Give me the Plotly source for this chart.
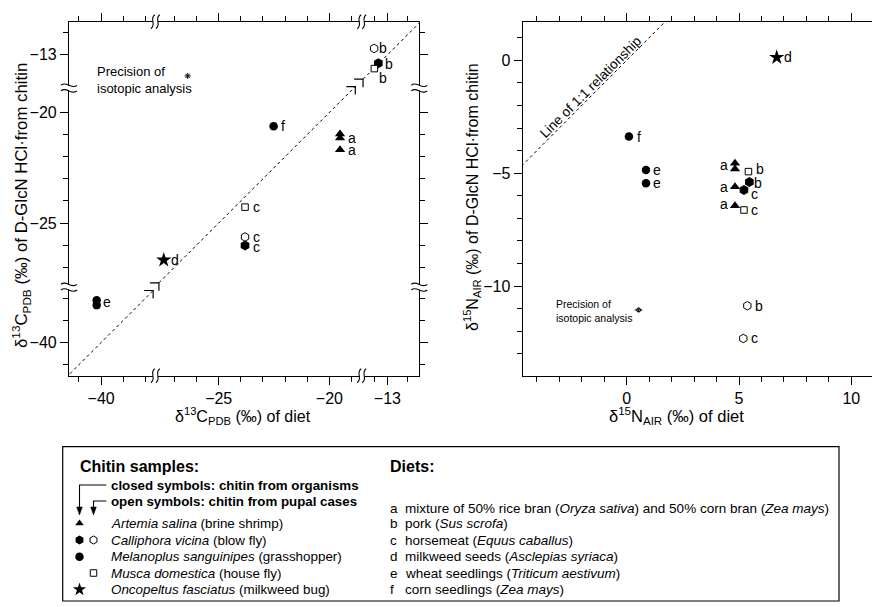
import plotly.graph_objects as go

W, H = 872, 607
FONT = "Liberation Sans, Arial, Helvetica, sans-serif"

# ---------------- δ13C panel: diet vs chitin (‰, PDB) ----------------
# broken axes: the displayed value ranges of each axis segment
C_X_SEGS = [(-41.45, -37.55), (-27.86, -18.54), (-14.16, -11.56)]
C_Y_SEGS = [(-41.5, -37.5), (-27.9, -18.9), (-14.5, -11.5)]

c_artemia_diet = [-19.52, -19.52, -19.52]
c_artemia_chitin = [-20.98, -21.16, -21.69]
c_artemia_lbl = ["", "a", "a"]

c_calli_closed_diet = [-13.41, -23.81]
c_calli_closed_chitin = [-13.38, -26.02]
c_calli_closed_lbl = ["b", "c"]

c_calli_open_diet = [-13.60, -23.81]
c_calli_open_chitin = [-12.71, -25.63]
c_calli_open_lbl = ["b", "c"]

c_melan_diet = [-40.20, -40.20, -22.52]
c_melan_chitin = [-38.09, -38.31, -20.62]
c_melan_lbl = ["", "e", "f"]

c_musca_diet = [-13.59, -23.81]
c_musca_chitin = [-13.62, -24.28]
c_musca_lbl = ["b", "c"]

c_oncop_diet = [-27.48]
c_oncop_chitin = [-26.67]
c_oncop_lbl = ["d"]

c_precision_diet = [-26.40]
c_precision_chitin = [-13.95]

# pieces of the 1:1 line between the axis breaks
c_one_to_one = [(-41.6, -37.65), (-27.7, -18.83), (-14.1, -11.4)]

c_x_major = [-40, -25, -20, -13]
c_x_minor = [-41, -39, -38, -27, -26, -24, -23, -22, -21, -19, -13.6, -12.1]
c_y_major = [-40, -25, -20, -13]
c_y_minor = [-41, -39, -38, -27, -26, -24, -23, -22, -21, -12]

# ---------------- δ15N panel: diet vs chitin (‰, AIR) ----------------
n_artemia_diet = [4.82, 4.82, 4.82, 4.82]
n_artemia_chitin = [-4.56, -4.82, -5.60, -6.44]
n_artemia_lbl = ["a", "", "a", "a"]

n_calli_closed_diet = [5.46, 5.22]
n_calli_closed_chitin = [-5.39, -5.75]
n_calli_closed_lbl = ["b", "c"]

n_calli_open_diet = [5.37, 5.19]
n_calli_open_chitin = [-10.87, -12.32]
n_calli_open_lbl = ["b", "c"]

n_melan_diet = [0.86, 0.86, 0.10]
n_melan_chitin = [-4.86, -5.45, -3.38]
n_melan_lbl = ["e", "e", "f"]

n_musca_diet = [5.42, 5.22]
n_musca_chitin = [-4.93, -6.63]
n_musca_lbl = ["b", "c"]

n_oncop_diet = [6.68]
n_oncop_chitin = [0.13]
n_oncop_lbl = ["d"]

n_precision_diet = [0.53]
n_precision_chitin = [-11.06]

n_one_to_one = [-6, 3]

n_x_major = [0, 5, 10]
n_x_minor = [-4, -3, -2, -1, 1, 2, 3, 4, 6, 7, 8, 9]
n_y_major = [0, -5, -10]
n_y_minor = [1, -1, -2, -3, -4, -6, -7, -8, -9, -11, -12, -13]

# ---------------- legend content ----------------
species = [("Artemia salina", "brine shrimp"),
           ("Calliphora vicina", "blow fly"),
           ("Melanoplus sanguinipes", "grasshopper"),
           ("Musca domestica", "house fly"),
           ("Oncopeltus fasciatus", "milkweed bug")]
diets = [("a", "mixture of 50% rice bran (<i>Oryza sativa</i>) and 50% corn bran (<i>Zea mays</i>)"),
         ("b", "pork (<i>Sus scrofa</i>)"),
         ("c", "horsemeat (<i>Equus caballus</i>)"),
         ("d", "milkweed seeds (<i>Asclepias syriaca</i>)"),
         ("e", "wheat seedlings (<i>Triticum aestivum</i>)"),
         ("f", "corn seedlings (<i>Zea mays</i>)")]


def minus(v):
    s = f"{v:g}"
    return s.replace("-", "\u2212")


def brk(v, segs):
    """Map a value onto a broken axis made of consecutive segments.

    The value is placed in the segment it falls in (or the nearest one)."""
    best, off, best_off = None, 0.0, 0.0
    best_d = float("inf")
    for lo, hi in segs:
        d = 0.0 if lo <= v <= hi else min(abs(v - lo), abs(v - hi))
        if d < best_d:
            best_d, best, best_off = d, (lo, hi), off
        off += hi - lo
    return best_off + (v - best[0])


def seg_total(segs):
    return sum(hi - lo for lo, hi in segs)


def cx(v):
    return brk(v, C_X_SEGS)


def cy(v):
    return brk(v, C_Y_SEGS)


def ident(v):
    return v


# panel geometry (pixels in the 872x607 page)
L_X0, L_X1 = 69.0, 419.3
R_X0, R_X1 = 522.7, 872.0
P_TOP, P_BOT = 21.7, 375.7


def px(x):
    return x / W


def py(y):
    return 1 - y / H


Y_DOM = [py(P_BOT), py(P_TOP)]

fig = go.Figure()

# marker styles for the chitin samples
STY = {
    "artemia": dict(symbol="triangle-up", size=9, color="black", line=dict(width=0)),
    "calli_closed": dict(symbol="hexagon", size=10, color="black", line=dict(width=0)),
    "calli_open": dict(symbol="hexagon", size=8.5, color="white", line=dict(width=1, color="black")),
    "melan": dict(symbol="circle", size=8.5, color="black", line=dict(width=0)),
    "musca": dict(symbol="square", size=6.5, color="white", line=dict(width=1, color="black")),
    "oncop": dict(symbol="star", size=11.5, color="black", line=dict(width=0)),
}

annots = []
shapes = []


def add_group(xs, ys, lbls, offs, style, xa, ya, tx, ty):
    fig.add_trace(go.Scatter(
        x=[tx(v) for v in xs], y=[ty(v) for v in ys], mode="markers",
        marker=STY[style], xaxis=xa, yaxis=ya, showlegend=False,
        hoverinfo="skip", cliponaxis=False))
    for xv, yv, t, (dx, dy) in zip(xs, ys, lbls, offs):
        if not t:
            continue
        annots.append(dict(
            text=t, x=tx(xv), y=ty(yv), xref=xa, yref=ya, showarrow=False,
            xanchor="center", yanchor="middle", xshift=dx, yshift=dy,
            font=dict(family=FONT, size=14, color="black")))


# ---- δ13C panel ----
# dashed 1:1 line, interrupted at the axis breaks
lx, ly = [], []
for lo, hi in c_one_to_one:
    lx += [cx(lo), cx(hi), None]
    ly += [cy(lo), cy(hi), None]
fig.add_trace(go.Scatter(x=lx, y=ly, mode="lines", xaxis="x", yaxis="y",
                         line=dict(color="black", width=1, dash="3px,3px"),
                         showlegend=False, hoverinfo="skip"))
# break marks at the ends of the interrupted 1:1 line
for v in (c_one_to_one[0][1], c_one_to_one[1][0], c_one_to_one[1][1], c_one_to_one[2][0]):
    shapes.append(dict(type="path", xref="x", yref="y", xsizemode="pixel", ysizemode="pixel",
                       xanchor=cx(v), yanchor=cy(v), path="M-9,0 L0,0 L0,-8",
                       line=dict(color="black", width=1.2), layer="above"))

add_group(c_artemia_diet, c_artemia_chitin, c_artemia_lbl,
          [(0, 0), (12.3, 0), (12.3, 0)], "artemia", "x", "y", cx, cy)
add_group(c_calli_closed_diet, c_calli_closed_chitin, c_calli_closed_lbl,
          [(10.7, -1), (11.3, -1)], "calli_closed", "x", "y", cx, cy)
add_group(c_calli_open_diet, c_calli_open_chitin, c_calli_open_lbl,
          [(9.3, 0), (11.3, 0)], "calli_open", "x", "y", cx, cy)
add_group(c_melan_diet, c_melan_chitin, c_melan_lbl,
          [(0, 0), (10.7, 2.7), (9, 0)], "melan", "x", "y", cx, cy)
add_group(c_musca_diet, c_musca_chitin, c_musca_lbl,
          [(9, -9), (11.3, 0)], "musca", "x", "y", cx, cy)
add_group(c_oncop_diet, c_oncop_chitin, c_oncop_lbl,
          [(11.7, 0)], "oncop", "x", "y", cx, cy)

fig.add_trace(go.Scatter(
    x=[cx(v) for v in c_precision_diet], y=[cy(v) for v in c_precision_chitin],
    mode="markers", xaxis="x", yaxis="y", showlegend=False, hoverinfo="skip",
    marker=dict(symbol="asterisk-open", size=5, color="black",
                line=dict(width=1, color="black"))))
annots.append(dict(text="Precision of<br>isotopic analysis", x=px(95), y=py(80),
                   xref="paper", yref="paper", xanchor="left", yanchor="middle",
                   align="left", showarrow=False,
                   font=dict(family=FONT, size=13, color="black")))

# ---- δ15N panel ----
fig.add_trace(go.Scatter(x=n_one_to_one, y=n_one_to_one, mode="lines", xaxis="x2", yaxis="y2",
                         line=dict(color="black", width=1, dash="3px,3px"),
                         showlegend=False, hoverinfo="skip"))
annots.append(dict(text="Line of 1:1 relationship", x=-1.45, y=-1.45, xref="x2", yref="y2",
                   showarrow=False, textangle=-45, xshift=-4, yshift=6,
                   font=dict(family=FONT, size=13.6, color="black")))

add_group(n_artemia_diet, n_artemia_chitin, n_artemia_lbl,
          [(-10.7, -1.7), (0, 0), (-10.7, 0), (-10.7, 1.7)], "artemia", "x2", "y2", ident, ident)
add_group(n_calli_closed_diet, n_calli_closed_chitin, n_calli_closed_lbl,
          [(9, -0.7), (10.3, -4.3)], "calli_closed", "x2", "y2", ident, ident)
add_group(n_calli_open_diet, n_calli_open_chitin, n_calli_open_lbl,
          [(12, 0), (11.7, 0)], "calli_open", "x2", "y2", ident, ident)
add_group(n_melan_diet, n_melan_chitin, n_melan_lbl,
          [(10.7, 0), (10.7, 0), (10, 0)], "melan", "x2", "y2", ident, ident)
add_group(n_musca_diet, n_musca_chitin, n_musca_lbl,
          [(11.7, 2.7), (11, 0)], "musca", "x2", "y2", ident, ident)
add_group(n_oncop_diet, n_oncop_chitin, n_oncop_lbl,
          [(11.6, 0)], "oncop", "x2", "y2", ident, ident)

fig.add_trace(go.Scatter(
    x=n_precision_diet, y=n_precision_chitin, mode="markers", xaxis="x2", yaxis="y2",
    showlegend=False, hoverinfo="skip",
    marker=dict(symbol="circle-open", size=4, color="black", line=dict(width=1, color="black")),
    error_x=dict(type="constant", value=0.17, thickness=1, width=0, color="black"),
    error_y=dict(type="constant", value=0.1, thickness=1, width=0, color="black")))
annots.append(dict(text="Precision of<br>isotopic analysis", x=px(554), y=py(311),
                   xref="paper", yref="paper", xanchor="left", yanchor="middle",
                   align="left", showarrow=False,
                   font=dict(family=FONT, size=10.5, color="black")))

# ---- axis titles ----
annots += [
    dict(text="\u03b4<sup>13</sup>C<sub>PDB</sub> (\u2030) of diet", x=px(243), y=py(416),
         xref="paper", yref="paper", showarrow=False, xanchor="center", yanchor="middle",
         font=dict(family=FONT, size=16, color="black")),
    dict(text="\u03b4<sup>15</sup>N<sub>AIR</sub> (\u2030) of diet", x=px(676), y=py(416),
         xref="paper", yref="paper", showarrow=False, xanchor="center", yanchor="middle",
         font=dict(family=FONT, size=16.5, color="black")),
    dict(text="\u03b4<sup>13</sup>C<sub>PDB</sub> (\u2030) of D-GlcN HCl\u00b7from chitin",
         x=px(21), y=py(206), xref="paper", yref="paper", showarrow=False, textangle=-90,
         xanchor="center", yanchor="middle", font=dict(family=FONT, size=16.8, color="black")),
    dict(text="\u03b4<sup>15</sup>N<sub>AIR</sub> (\u2030) of D-GlcN HCl\u00b7from chitin",
         x=px(472), y=py(197), xref="paper", yref="paper", showarrow=False, textangle=-90,
         xanchor="center", yanchor="middle", font=dict(family=FONT, size=16, color="black")),
]

# ---- axis break symbols on the δ13C panel ----
BRK_X = [seg_total(C_X_SEGS[:1]), seg_total(C_X_SEGS[:2])]
BRK_Y = [seg_total(C_Y_SEGS[:1]), seg_total(C_Y_SEGS[:2])]
for u in BRK_X:
    for yd in Y_DOM:
        common = dict(xref="x", yref="paper", xsizemode="pixel", ysizemode="pixel",
                      xanchor=u, yanchor=yd, layer="above")
        shapes.append(dict(type="rect", x0=-2.5, x1=2.5, y0=-2, y1=2,
                           fillcolor="white", line=dict(width=0), **common))
        for d in (-2.5, 2.5):
            shapes.append(dict(type="path",
                               path=f"M{d-2},-7 C{d+4},-3 {d-4},3 {d+2},7",
                               line=dict(color="black", width=1.1), **common))
for u in BRK_Y:
    for xd in (px(L_X0), px(L_X1)):
        common = dict(xref="paper", yref="y", xsizemode="pixel", ysizemode="pixel",
                      xanchor=xd, yanchor=u, layer="above")
        shapes.append(dict(type="rect", x0=-2, x1=2, y0=-2.5, y1=2.5,
                           fillcolor="white", line=dict(width=0), **common))
        for d in (-2.8, 2.8):
            shapes.append(dict(type="path",
                               path=f"M-8,{d} C-3,{d+5} 3,{d-5} 8,{d}",
                               line=dict(color="black", width=1.1), **common))

# ---- legend block (drawn on a pixel-based overlay axis) ----
BOX_L, BOX_T, BOX_R, BOX_B = 62.7, 446.7, 839.0, 601.0
COL_CLOSED, COL_OPEN = 79.5, 93.5
TXT_X = 109.3
ROWS = [523.3, 540.0, 556.7, 573.0, 589.5]
DIET_ROWS = [508.0] + ROWS
shapes.append(dict(type="rect", xref="x3", yref="y3", x0=BOX_L, x1=BOX_R, y0=BOX_T, y1=BOX_B,
                   line=dict(color="black", width=1.2), layer="above"))
# arrows from the explanatory lines down to the symbol columns
for col, yline in ((COL_CLOSED, 485.0), (COL_OPEN, 501.0)):
    shapes.append(dict(type="path", xref="x3", yref="y3",
                       path=f"M{TXT_X - 3},{yline} L{col},{yline} L{col},{508}",
                       line=dict(color="black", width=1.1), layer="above"))
    shapes.append(dict(type="path", xref="x3", yref="y3",
                       path=f"M{col - 2.8},{507} L{col + 2.8},{507} L{col},{515} Z",
                       fillcolor="black", line=dict(color="black", width=0.5), layer="above"))

leg_closed = ["artemia", "calli_closed", "melan", None, "oncop"]
leg_open = [None, "calli_open", None, "musca", None]
leg_size = {"artemia": 7.5, "calli_closed": 9, "calli_open": 8, "melan": 8.5, "musca": 6.5, "oncop": 10}
for row, c, o in zip(ROWS, leg_closed, leg_open):
    for col, st in ((COL_CLOSED, c), (COL_OPEN, o)):
        if st is None:
            continue
        m = dict(STY[st])
        m["size"] = leg_size[st]
        fig.add_trace(go.Scatter(x=[col], y=[row], mode="markers", marker=m,
                                 xaxis="x3", yaxis="y3", showlegend=False,
                                 hoverinfo="skip", cliponaxis=False))


def leg_text(text, x, y, size=13, bold=False):
    if bold:
        text = f"<b>{text}</b>"
    annots.append(dict(text=text, x=x, y=y, xref="x3", yref="y3", showarrow=False,
                       xanchor="left", yanchor="middle",
                       font=dict(family=FONT, size=size, color="black")))


leg_text("Chitin samples:", 78.3, 466.7, size=16, bold=True)
leg_text("Diets:", 388.3, 466.7, size=16, bold=True)
leg_text("closed symbols: chitin from organisms", TXT_X, 485.0, size=13.3, bold=True)
leg_text("open symbols: chitin from pupal cases", TXT_X, 501.0, size=13.3, bold=True)
for row, (sci, common) in zip(ROWS, species):
    leg_text(f"<i>{sci}</i> ({common})", TXT_X, row, size=13.4)
for row, (letter, desc) in zip(DIET_ROWS, diets):
    leg_text(letter, 388.3, row, size=13.5)
    leg_text(desc, 403.3, row, size=13.5)

# ---- axes ----
AX = dict(showgrid=False, zeroline=False, showline=True, linecolor="black", linewidth=1.2,
          ticks="outside", ticklen=8, tickwidth=1, tickcolor="black",
          tickfont=dict(family=FONT, size=16, color="black"), fixedrange=True)
MINOR = dict(ticks="outside", ticklen=5, tickwidth=1, tickcolor="black", showgrid=False)

fig.update_layout(
    width=W, height=H, margin=dict(l=0, r=0, t=0, b=0),
    paper_bgcolor="white", plot_bgcolor="rgba(0,0,0,0)", showlegend=False,
    xaxis=dict(AX, domain=[px(L_X0), px(L_X1)], range=[0, seg_total(C_X_SEGS)], anchor="y",
               mirror="ticks", tickmode="array", tickvals=[cx(v) for v in c_x_major],
               ticktext=[minus(v) for v in c_x_major],
               minor=dict(MINOR, tickmode="array", tickvals=[cx(v) for v in c_x_minor])),
    yaxis=dict(AX, domain=Y_DOM, range=[0, seg_total(C_Y_SEGS)], anchor="x",
               mirror="ticks", tickmode="array", tickvals=[cy(v) for v in c_y_major],
               ticktext=[minus(v) for v in c_y_major],
               minor=dict(MINOR, tickmode="array", tickvals=[cy(v) for v in c_y_minor])),
    xaxis2=dict(AX, domain=[px(R_X0), px(R_X1)], range=[-4.63, 10.92], anchor="y2",
                mirror="ticks", tickmode="array", tickvals=n_x_major,
                ticktext=[minus(v) for v in n_x_major],
                minor=dict(MINOR, tickmode="array", tickvals=n_x_minor)),
    yaxis2=dict(AX, domain=Y_DOM, range=[-13.97, 1.71], anchor="x2",
                mirror=False, tickmode="array", tickvals=n_y_major,
                ticktext=[minus(v) for v in n_y_major],
                minor=dict(MINOR, tickmode="array", tickvals=n_y_minor)),
    xaxis3=dict(domain=[0, 1], range=[0, W], visible=False, anchor="y3", fixedrange=True),
    yaxis3=dict(domain=[0, 1], range=[H, 0], visible=False, anchor="x3", fixedrange=True),
    annotations=annots,
    shapes=shapes,
)

fig.write_html("out.html")
